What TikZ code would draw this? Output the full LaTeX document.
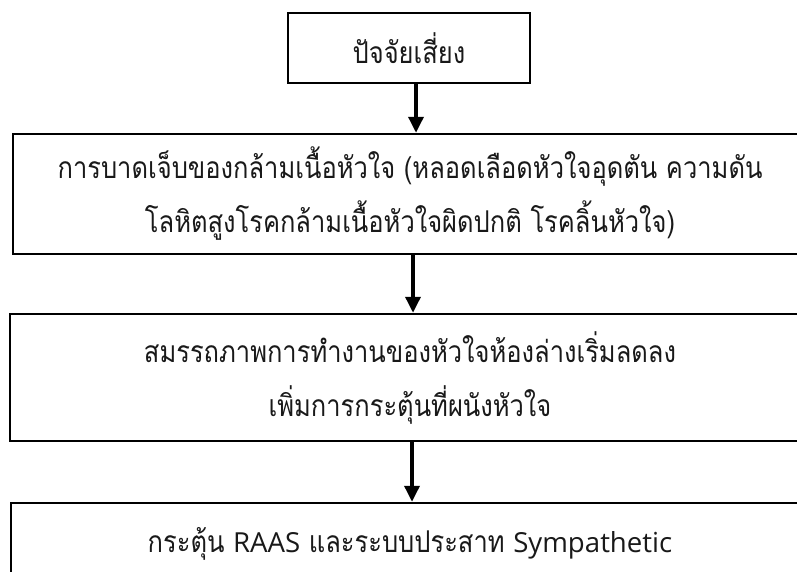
\documentclass[tikz,border=0pt]{standalone}
\usepackage{fontspec}
\setmainfont[Script=Thai, FakeStretch=0.85]{Loma}
\newfontfamily\latinf[Scale=0.92]{Open Sans}
\usetikzlibrary{arrows.meta}
\tikzset{
  boxnode/.style={draw=black, line width=2.5pt, fill=white, inner sep=0pt, align=center,
    font=\fontsize{30}{54}\selectfont, text=black!90},
  arr/.style={line width=3.5pt, -{Triangle[width=15pt,length=16pt]}}
}
\begin{document}
\begin{tikzpicture}[x=1pt,y=-1pt]
\useasboundingbox (0,0) rectangle (797,571);
\clip (0,0) rectangle (797,571);
\node[boxnode, minimum width=242pt, minimum height=70pt] (b1) at (409,48) {ปัจจัยเสี่ยง};
\node[boxnode, minimum width=794pt, minimum height=120pt] (b2) at (410,194)
  {การบาดเจ็บของกล้ามเนื้อหัวใจ (หลอดเลือดหัวใจอุดตัน ความดัน\\โลหิตสูงโรคกล้ามเนื้อหัวใจผิดปกติ โรคลิ้นหัวใจ)};
\node[boxnode, minimum width=800pt, minimum height=127pt] (b3) at (410,377.5)
  {สมรรถภาพการทำงานของหัวใจห้องล่างเริ่มลดลง\\เพิ่มการกระตุ้นที่ผนังหัวใจ};
\node[boxnode, minimum width=798pt, minimum height=82pt] (b4) at (410,544)
  {กระตุ้น {\latinf RAAS} และระบบประสาท {\latinf Sympathetic}};
\draw[arr] ([xshift=7pt]b1.south) -- ([xshift=6pt]b2.north);
\draw[arr] ([xshift=3pt]b2.south) -- ([xshift=3pt]b3.north);
\draw[arr] ([xshift=2pt]b3.south) -- ([xshift=2pt]b4.north);
\end{tikzpicture}
\end{document}
